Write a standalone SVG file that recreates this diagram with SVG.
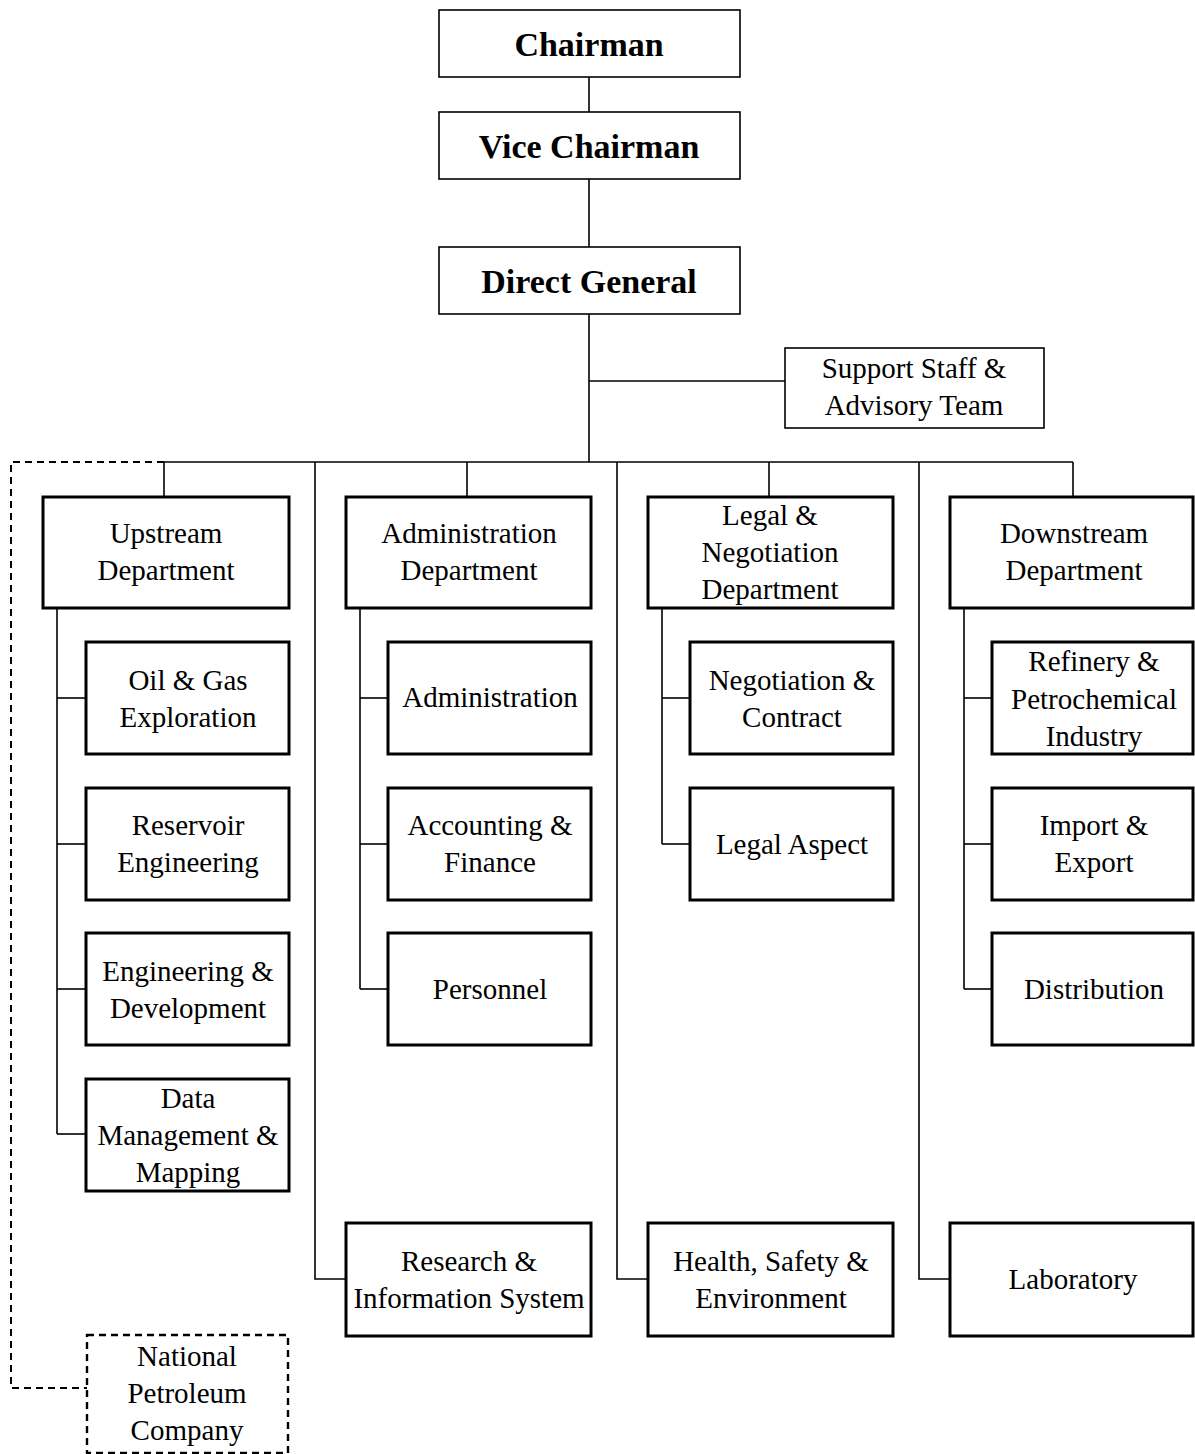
<svg xmlns="http://www.w3.org/2000/svg" width="1195" height="1454" viewBox="0 0 1195 1454">
<style>
.thin{fill:#fff;stroke:#000;stroke-width:1.6}
.box{fill:#fff;stroke:#000;stroke-width:3}
.dbox{fill:#fff;stroke:#000;stroke-width:2.4;stroke-dasharray:7 5}
.ln{fill:none;stroke:#000;stroke-width:1.6}
.dl{fill:none;stroke:#000;stroke-width:2;stroke-dasharray:7 5}
text{font-family:"Liberation Serif","Times New Roman",serif;font-size:29px;text-anchor:middle;fill:#000}
.b{font-weight:bold;font-size:34px}
</style>
<rect width="1195" height="1454" fill="#fff"/>
<g id="connectors">
<line class="ln" x1="589" y1="77" x2="589" y2="112"/>
<line class="ln" x1="589" y1="179" x2="589" y2="247"/>
<line class="ln" x1="589" y1="314" x2="589" y2="462"/>
<line class="ln" x1="589" y1="381" x2="785" y2="381"/>
<line class="ln" x1="164" y1="462" x2="1073" y2="462"/>
<line class="ln" x1="164" y1="462" x2="164" y2="497"/>
<line class="ln" x1="467" y1="462" x2="467" y2="497"/>
<line class="ln" x1="769" y1="462" x2="769" y2="497"/>
<line class="ln" x1="1073" y1="462" x2="1073" y2="497"/>
<polyline class="ln" points="315,462 315,1279 346,1279"/>
<polyline class="ln" points="617,462 617,1279 648,1279"/>
<polyline class="ln" points="919,462 919,1279 950,1279"/>
<line class="ln" x1="57" y1="608" x2="57" y2="1134"/>
<line class="ln" x1="57" y1="698" x2="86" y2="698"/>
<line class="ln" x1="57" y1="844" x2="86" y2="844"/>
<line class="ln" x1="57" y1="989" x2="86" y2="989"/>
<line class="ln" x1="57" y1="1134" x2="86" y2="1134"/>
<line class="ln" x1="360" y1="608" x2="360" y2="989"/>
<line class="ln" x1="360" y1="698" x2="388" y2="698"/>
<line class="ln" x1="360" y1="844" x2="388" y2="844"/>
<line class="ln" x1="360" y1="989" x2="388" y2="989"/>
<line class="ln" x1="662" y1="608" x2="662" y2="844"/>
<line class="ln" x1="662" y1="698" x2="690" y2="698"/>
<line class="ln" x1="662" y1="844" x2="690" y2="844"/>
<line class="ln" x1="964" y1="608" x2="964" y2="989"/>
<line class="ln" x1="964" y1="698" x2="992" y2="698"/>
<line class="ln" x1="964" y1="844" x2="992" y2="844"/>
<line class="ln" x1="964" y1="989" x2="992" y2="989"/>
<polyline class="dl" points="164,462 11,462 11,1388 87,1388"/>
</g>
<g id="chairman"><rect class="thin" x="439" y="10" width="301" height="67"/><text class="b" x="589" y="56">Chairman</text></g>
<g id="vice-chairman"><rect class="thin" x="439" y="112" width="301" height="67"/><text class="b" x="589" y="158">Vice Chairman</text></g>
<g id="direct-general"><rect class="thin" x="439" y="247" width="301" height="67"/><text class="b" x="589" y="293">Direct General</text></g>
<g id="support-staff"><rect class="thin" x="785" y="348" width="259" height="80"/><text x="914" y="378">Support Staff &amp;</text><text x="914" y="415">Advisory Team</text></g>

<g id="upstream"><rect class="box" x="43" y="497" width="246" height="111"/><text x="166" y="543">Upstream</text><text x="166" y="580">Department</text></g>
<g id="administration-dept"><rect class="box" x="346" y="497" width="245" height="111"/><text x="469" y="543">Administration</text><text x="469" y="580">Department</text></g>
<g id="legal-dept"><rect class="box" x="648" y="497" width="245" height="111"/><text x="770" y="525">Legal &amp;</text><text x="770" y="562">Negotiation</text><text x="770" y="599">Department</text></g>
<g id="downstream"><rect class="box" x="950" y="497" width="243" height="111"/><text x="1074" y="543">Downstream</text><text x="1074" y="580">Department</text></g>

<g id="oil-gas"><rect class="box" x="86" y="642" width="203" height="112"/><text x="188" y="690">Oil &amp; Gas</text><text x="188" y="727">Exploration</text></g>
<g id="reservoir"><rect class="box" x="86" y="788" width="203" height="112"/><text x="188" y="835">Reservoir</text><text x="188" y="872">Engineering</text></g>
<g id="engineering"><rect class="box" x="86" y="933" width="203" height="112"/><text x="188" y="981">Engineering &amp;</text><text x="188" y="1018">Development</text></g>
<g id="data-management"><rect class="box" x="86" y="1079" width="203" height="112"/><text x="188" y="1108">Data</text><text x="188" y="1145">Management &amp;</text><text x="188" y="1182">Mapping</text></g>

<g id="administration"><rect class="box" x="388" y="642" width="203" height="112"/><text x="490" y="707">Administration</text></g>
<g id="accounting"><rect class="box" x="388" y="788" width="203" height="112"/><text x="490" y="835">Accounting &amp;</text><text x="490" y="872">Finance</text></g>
<g id="personnel"><rect class="box" x="388" y="933" width="203" height="112"/><text x="490" y="999">Personnel</text></g>

<g id="negotiation"><rect class="box" x="690" y="642" width="203" height="112"/><text x="792" y="690">Negotiation &amp;</text><text x="792" y="727">Contract</text></g>
<g id="legal-aspect"><rect class="box" x="690" y="788" width="203" height="112"/><text x="792" y="854">Legal Aspect</text></g>

<g id="refinery"><rect class="box" x="992" y="642" width="201" height="112"/><text x="1094" y="671">Refinery &amp;</text><text x="1094" y="709">Petrochemical</text><text x="1094" y="746">Industry</text></g>
<g id="import-export"><rect class="box" x="992" y="788" width="201" height="112"/><text x="1094" y="835">Import &amp;</text><text x="1094" y="872">Export</text></g>
<g id="distribution"><rect class="box" x="992" y="933" width="201" height="112"/><text x="1094" y="999">Distribution</text></g>

<g id="research"><rect class="box" x="346" y="1223" width="245" height="113"/><text x="469" y="1271">Research &amp;</text><text x="469" y="1308">Information System</text></g>
<g id="hse"><rect class="box" x="648" y="1223" width="245" height="113"/><text x="771" y="1271">Health, Safety &amp;</text><text x="771" y="1308">Environment</text></g>
<g id="laboratory"><rect class="box" x="950" y="1223" width="243" height="113"/><text x="1073" y="1289">Laboratory</text></g>

<g id="national-petroleum"><rect class="dbox" x="87" y="1335" width="201" height="118"/><text x="187" y="1366">National</text><text x="187" y="1403">Petroleum</text><text x="187" y="1440">Company</text></g>
</svg>
